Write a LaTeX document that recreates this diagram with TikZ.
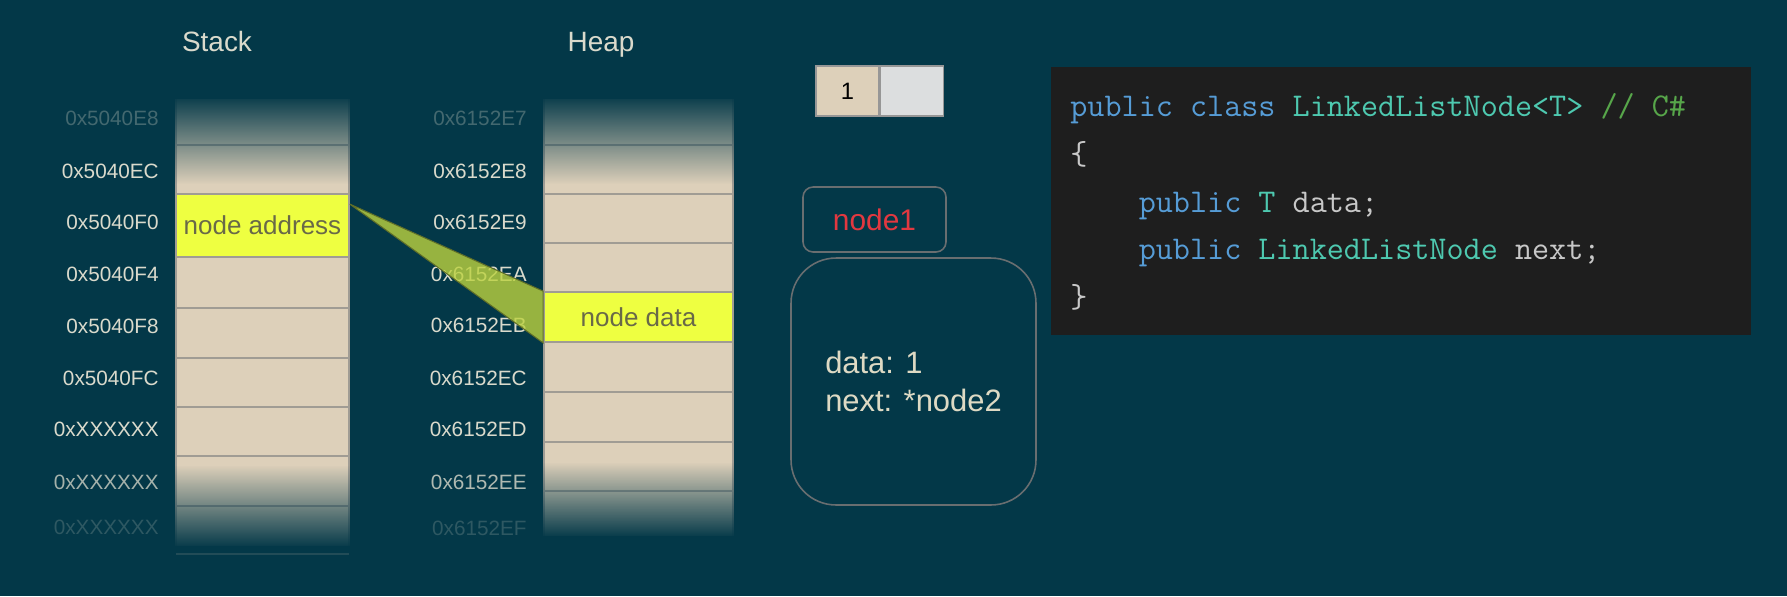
\documentclass[tikz,border=0pt]{standalone}
\usepackage{fontspec}
\setmainfont{Liberation Sans}
\usetikzlibrary{positioning, calc, fadings}
\definecolor{bgteal}{RGB}{3, 56, 72}
\definecolor{celltan}{RGB}{221, 208, 186}
\definecolor{cellline}{RGB}{160, 156, 148}
\definecolor{hiyellow}{RGB}{238, 255, 65}
\definecolor{hitext}{RGB}{105, 105, 72}
\definecolor{labeltext}{RGB}{218, 218, 204}
\definecolor{datatext}{RGB}{222, 218, 196}
\definecolor{ptrgreen}{RGB}{188, 210, 62}
\definecolor{ptrline}{RGB}{95, 110, 40}
\definecolor{nodered}{RGB}{226, 56, 64}
\definecolor{boxline}{RGB}{105, 110, 112}
\definecolor{tapeline}{RGB}{150, 150, 150}
\definecolor{tapegray}{RGB}{220, 222, 223}
\definecolor{codebg}{RGB}{30, 30, 30}
\definecolor{kwblue}{RGB}{86, 156, 214}
\definecolor{typeteal}{RGB}{78, 201, 176}
\definecolor{cmtgreen}{RGB}{87, 166, 74}
\definecolor{codegray}{RGB}{200, 200, 200}

\begin{document}
\begin{tikzpicture}[x=0.02cm, y=-0.02cm,
  heading/.style={anchor=base, text=labeltext, font=\fontsize{15.9}{19}\selectfont},
  addr/.style={anchor=east, inner sep=0pt, text=labeltext, font=\fontsize{11.8}{14}\selectfont},
  cell/.style={draw=cellline, fill=celltan, line width=1pt},
  hicell/.style={draw=cellline, fill=hiyellow, line width=1pt, text=hitext, inner sep=0pt, font=\fontsize{14.8}{18}\selectfont},
  pointer/.style={fill=ptrgreen, fill opacity=0.8, draw=ptrline, line width=0.6pt},
  tapecell/.style={draw=tapeline, line width=0.8pt, minimum width=1.26cm, minimum height=1cm, inner sep=0pt, font=\fontsize{13.5}{15}\selectfont},
  namebox/.style={draw=boxline, line width=0.9pt, rounded corners=0.2cm, minimum width=2.86cm, minimum height=1.3cm, text=nodered, font=\fontsize{17}{20}\selectfont},
  objbox/.style={draw=boxline, line width=0.9pt, rounded corners=0.9cm, minimum width=4.9cm, minimum height=4.94cm, align=left, text=datatext, font=\fontsize{17.6}{22}\selectfont},
  codebox/.style={fill=codebg, minimum width=14cm, minimum height=5.36cm, inner sep=0pt},
  code/.style={anchor=base west, inner sep=0pt, text=codegray, font=\ttfamily\fontsize{18.9}{27}\selectfont}
]
  \fill[bgteal] (0,0) rectangle (1787,596);

  \node[heading] (stacktitle) at (217,51) {Stack};
  \node[heading] (heaptitle) at (601,51) {Heap};

  % stack column
  \foreach \t/\b in {97/145, 145/194, 257/308, 308/358, 358/407, 407/456, 456/506, 506/554}
    \draw[cell] (176,\t) rectangle (349,\b);
  \node[hicell, minimum width=3.46cm, minimum height=1.26cm] (addr) at (262.5,225.5) {node address};

  % heap column
  \foreach \t/\b in {97/145, 145/194, 194/243, 243/292, 342/392, 392/442, 442/491, 491/540}
    \draw[cell] (544,\t) rectangle (733,\b);
  \node[hicell, minimum width=3.78cm, minimum height=1cm] (data) at (638.5,317) {node data};

  % fading ends (y axis is flipped, so south/north swap)
  \fill[bgteal, path fading=south] (173,94) rectangle (352,184);
  \fill[bgteal] (173,92) rectangle (352,99);
  \fill[bgteal, path fading=north] (173,465) rectangle (352,548);
  \fill[bgteal] (173,546) rectangle (352,558);
  \draw[cellline, opacity=0.2, line width=1pt] (176,554) -- (349,554);
  \fill[bgteal, path fading=south] (541,94) rectangle (736,184);
  \fill[bgteal] (541,92) rectangle (736,99);
  \fill[bgteal, path fading=north] (541,462) rectangle (736,538);
  \fill[bgteal] (541,536) rectangle (736,544);

  \foreach \a/\y/\o [count=\i] in {0x5040E8/118/0.3, 0x5040EC/171/1, 0x5040F0/222/1, 0x5040F4/274/1,
      0x5040F8/326/1, 0x5040FC/378/1, 0xXXXXXX/429/1, 0xXXXXXX/482/0.75, 0xXXXXXX/527/0.2}
    \node[addr, opacity=\o] (sa\i) at (159,\y) {\a};
  \foreach \a/\y/\o [count=\i] in {0x6152E7/118/0.3, 0x6152E8/171/1, 0x6152E9/222/1, 0x6152EA/274/1,
      0x6152EB/325/1, 0x6152EC/378/1, 0x6152ED/429/1, 0x6152EE/482/0.8, 0x6152EF/528/0.2}
    \node[addr, opacity=\o] (ha\i) at (527,\y) {\a};

  \filldraw[pointer] ($(addr.north east)+(0,11)$) -- (data.north west) -- (data.south west) -- cycle;

  % object
  \node[tapecell, fill=celltan] (tapeval) at (847.5,91) {1};
  \node[tapecell, fill=tapegray, right=0pt of tapeval] (tapenext) {};
  \node[namebox] (name) at (874.5,219.5) {node1};
  \node[objbox] (obj) at (913.5,381.5) {data: 1\\next: *node2};

  % source
  \node[codebox] (codearea) at (1401,201) {};
  \node[code] (line1) at (1070,116) {\textcolor{kwblue}{public class} \textcolor{typeteal}{LinkedListNode<T>} \textcolor{cmtgreen}{// C\#}};
  \node[code] (line2) at (1070,164) {\{};
  \node[code] (line3) at (1070,212) {\phantom{xxxx}\textcolor{kwblue}{public} \textcolor{typeteal}{T} data;};
  \node[code] (line4) at (1070,259) {\phantom{xxxx}\textcolor{kwblue}{public} \textcolor{typeteal}{LinkedListNode} next;};
  \node[code] (line5) at (1070,307) {\}};
\end{tikzpicture}
\end{document}
